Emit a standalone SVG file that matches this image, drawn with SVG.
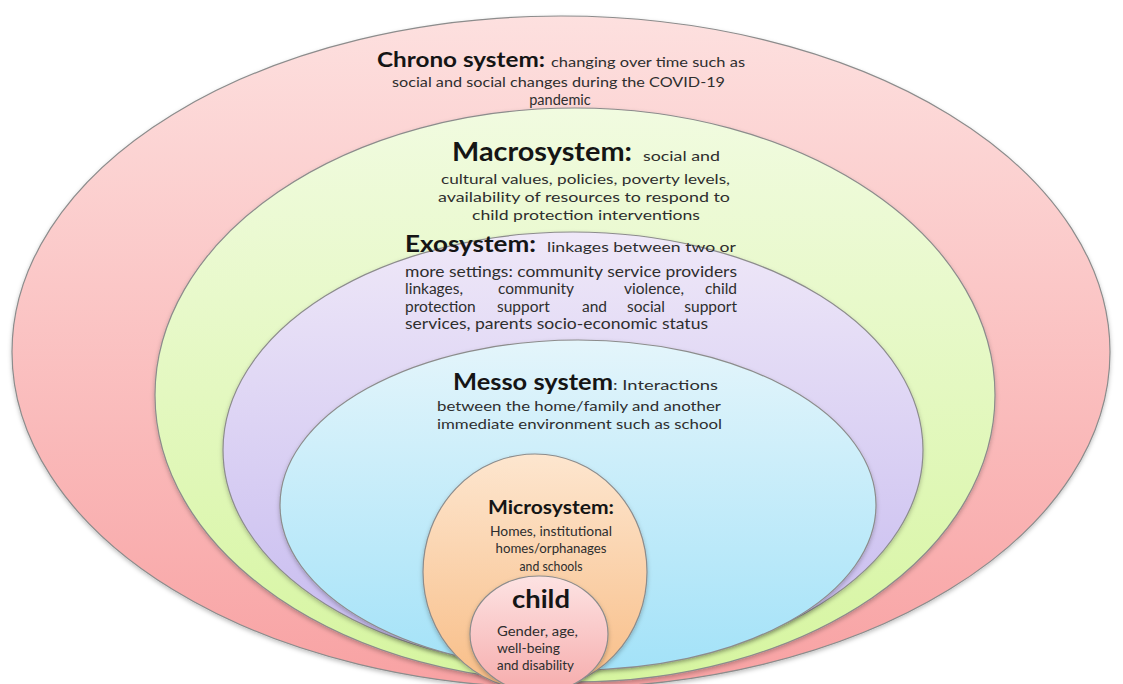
<svg xmlns="http://www.w3.org/2000/svg" width="1123" height="684" viewBox="0 0 1123 684">
<defs>
<linearGradient id="gPink" x1="0" y1="0" x2="0" y2="1"><stop offset="0" stop-color="#fde0df"/><stop offset="1" stop-color="#f8a2a3"/></linearGradient>
<linearGradient id="gGreen" x1="0" y1="0" x2="0" y2="1"><stop offset="0" stop-color="#f1fbe0"/><stop offset="1" stop-color="#d6f5a0"/></linearGradient>
<linearGradient id="gPurple" x1="0" y1="0" x2="0" y2="1"><stop offset="0" stop-color="#efe8f8"/><stop offset="1" stop-color="#c5b9ef"/></linearGradient>
<linearGradient id="gBlue" x1="0" y1="0" x2="0" y2="1"><stop offset="0" stop-color="#e4f5fb"/><stop offset="1" stop-color="#a3e2f8"/></linearGradient>
<linearGradient id="gOrange" x1="0" y1="0" x2="0" y2="1"><stop offset="0" stop-color="#fde6cf"/><stop offset="1" stop-color="#f8bd86"/></linearGradient>
<linearGradient id="gChild" x1="0" y1="0" x2="0" y2="1"><stop offset="0" stop-color="#fde3e3"/><stop offset="1" stop-color="#f6acac"/></linearGradient>
<filter id="sh" x="-5%" y="-5%" width="110%" height="115%"><feDropShadow dx="0" dy="2" stdDeviation="2" flood-color="#000" flood-opacity="0.25"/></filter>
</defs>
<style>
.ring{stroke:#8c8c8c;stroke-width:1.2;filter:url(#sh)}
.h{font-family:Lato,"Liberation Sans",sans-serif;font-weight:bold;fill:#151515}
.d{font-family:Lato,"Liberation Sans",sans-serif;fill:#2e2e2e}
</style>
<rect width="1123" height="684" fill="#ffffff"/>
<g id="chrono">
<ellipse class="ring" cx="561" cy="352" rx="549" ry="336" fill="url(#gPink)"/>
<text class="h" x="377" y="67" font-size="21.5" textLength="168" lengthAdjust="spacingAndGlyphs">Chrono system:</text>
<text class="d" x="551" y="67" font-size="14" textLength="194" lengthAdjust="spacingAndGlyphs">changing over time such as</text>
<text class="d" x="392" y="87" font-size="14" textLength="333" lengthAdjust="spacingAndGlyphs">social and social changes during the COVID-19</text>
<text class="d" x="560" y="105" font-size="14.5" text-anchor="middle">pandemic</text>
</g>
<g id="macro">
<ellipse class="ring" cx="575" cy="395" rx="420" ry="287" fill="url(#gGreen)"/>
<text class="h" x="452" y="161" font-size="26" textLength="180" lengthAdjust="spacingAndGlyphs">Macrosystem:</text>
<text class="d" x="643" y="161" font-size="13.5" textLength="77" lengthAdjust="spacingAndGlyphs">social and</text>
<text class="d" x="441" y="184" font-size="14" textLength="289" lengthAdjust="spacingAndGlyphs">cultural values, policies, poverty levels,</text>
<text class="d" x="438" y="202" font-size="14" textLength="292" lengthAdjust="spacingAndGlyphs">availability of resources  to respond  to</text>
<text class="d" x="472" y="220" font-size="14" textLength="228" lengthAdjust="spacingAndGlyphs">child protection interventions</text>
</g>
<g id="exo">
<ellipse class="ring" cx="573" cy="450" rx="350" ry="218" fill="url(#gPurple)"/>
<text class="h" x="405" y="252" font-size="23" textLength="131" lengthAdjust="spacingAndGlyphs">Exosystem:</text>
<text class="d" x="547" y="252" font-size="14" textLength="189" lengthAdjust="spacingAndGlyphs">linkages between two or</text>
<text class="d" x="405" y="277" font-size="15" textLength="332" lengthAdjust="spacingAndGlyphs">more settings: community service providers</text>
<text class="d" y="294" font-size="15.5"><tspan x="405">linkages,</tspan><tspan x="498">community</tspan><tspan x="624">violence,</tspan><tspan x="737" text-anchor="end">child</tspan></text>
<text class="d" y="312" font-size="15.5"><tspan x="405">protection</tspan><tspan x="497">support</tspan><tspan x="582">and</tspan><tspan x="627">social</tspan><tspan x="737" text-anchor="end">support</tspan></text>
<text class="d" x="405" y="329" font-size="15" textLength="303" lengthAdjust="spacingAndGlyphs">services, parents socio-economic status</text>
</g>
<g id="meso">
<ellipse class="ring" cx="578" cy="505" rx="298" ry="165" fill="url(#gBlue)"/>
<text class="h" x="453" y="390" font-size="23" textLength="160" lengthAdjust="spacingAndGlyphs">Messo system</text>
<text class="d" x="613" y="390" font-size="14" textLength="105" lengthAdjust="spacingAndGlyphs">: Interactions</text>
<text class="d" x="437" y="411" font-size="14" textLength="284" lengthAdjust="spacingAndGlyphs">between the home/family and another</text>
<text class="d" x="437" y="429" font-size="14" textLength="285" lengthAdjust="spacingAndGlyphs">immediate environment such as school</text>
</g>
<g id="micro">
<ellipse class="ring" cx="535" cy="572" rx="112" ry="118" fill="url(#gOrange)"/>
<text class="h" x="551" y="514" font-size="19" text-anchor="middle" textLength="126" lengthAdjust="spacingAndGlyphs">Microsystem:</text>
<text class="d" x="551" y="536" font-size="12.5" text-anchor="middle" textLength="122" lengthAdjust="spacingAndGlyphs">Homes, institutional</text>
<text class="d" x="551" y="553" font-size="12.5" text-anchor="middle" textLength="111" lengthAdjust="spacingAndGlyphs">homes/orphanages</text>
<text class="d" x="551" y="571" font-size="12.5" text-anchor="middle" textLength="63" lengthAdjust="spacingAndGlyphs">and schools</text>
</g>
<g id="child">
<ellipse class="ring" cx="539" cy="634" rx="69" ry="58" fill="url(#gChild)"/>
<text class="h" x="541" y="608" font-size="24" text-anchor="middle" textLength="58" lengthAdjust="spacingAndGlyphs">child</text>
<text class="d" x="497" y="636" font-size="12.5" textLength="81" lengthAdjust="spacingAndGlyphs">Gender,  age,</text>
<text class="d" x="497" y="653" font-size="12.5" textLength="63" lengthAdjust="spacingAndGlyphs">well-being</text>
<text class="d" x="497" y="670" font-size="12.5" textLength="77" lengthAdjust="spacingAndGlyphs">and disability</text>
</g>
<g id="connectors"/>
</svg>
